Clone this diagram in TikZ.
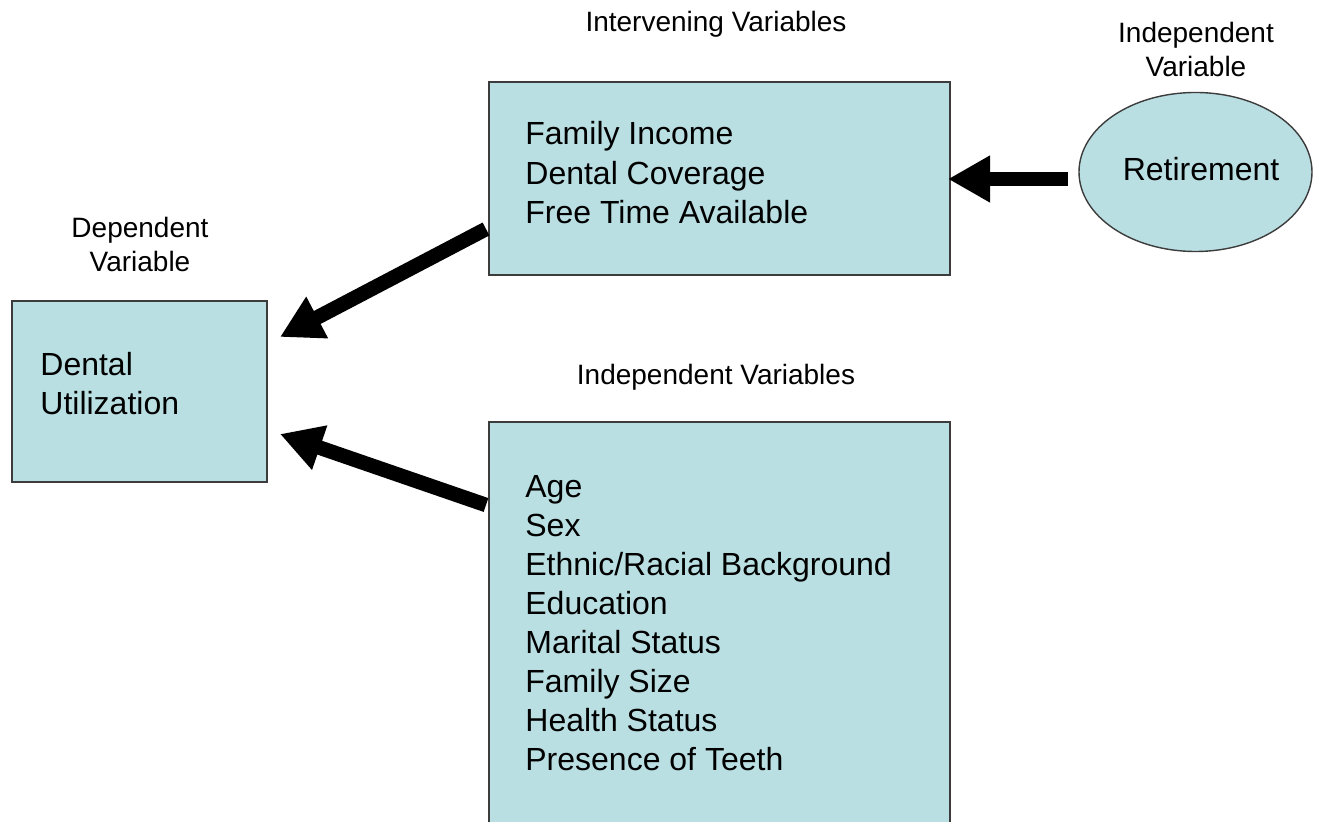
\documentclass[tikz,border=0pt]{standalone}
\usepackage{fontspec}
\setmainfont{Liberation Sans}
\usetikzlibrary{arrows.meta,shapes.geometric}
\definecolor{boxfill}{RGB}{185,223,227}
\definecolor{boxline}{RGB}{60,60,60}
\tikzset{
  varbox/.style={draw=boxline, line width=0.7pt, fill=boxfill, inner sep=0pt},
  bigtext/.style={anchor=base west, inner sep=0pt, font=\fontsize{16}{19.5}\selectfont},
  smalltext/.style={anchor=base, inner sep=0pt, font=\fontsize{14}{17}\selectfont},
  fatarrow/.style={line width=7.3pt, -{Triangle[length=21pt,width=22pt]}}
}
\begin{document}
\begin{tikzpicture}[x=0.5pt,y=-0.5pt]
\useasboundingbox (0,0) rectangle (1319,822);
\clip (0,0) rectangle (1319,822);
% boxes
\node[varbox, minimum width=127.5pt, minimum height=90.5pt] (dep) at (139.5,391.5) {};
\node[varbox, minimum width=230.5pt, minimum height=96.5pt] (iv) at (719.5,178.5) {};
\node[varbox, minimum width=230.5pt, minimum height=206pt] (ind) at (719.5,628) {};
\node[varbox, shape=ellipse, minimum width=116.5pt, minimum height=79.5pt] (ret) at (1195.5,172) {};
% headings
\node[smalltext] (hiv) at (716,32) {Intervening Variables};
\node[smalltext] (hret1) at (1196,43) {Independent};
\node[smalltext] (hret2) at (1196,77) {Variable};
\node[smalltext] (hdep1) at (140,238) {Dependent};
\node[smalltext] (hdep2) at (140,272) {Variable};
\node[smalltext] (hind) at (716,385) {Independent Variables};
% box texts
\node[bigtext] (d1) at (40,376) {Dental};
\node[bigtext] (d2) at (40,415) {Utilization};
\node[bigtext] (i1) at (525,145) {Family Income};
\node[bigtext] (i2) at (525,184.5) {Dental Coverage};
\node[bigtext] (i3) at (525,224) {Free Time Available};
\foreach \t [count=\k from 0] in {Age,Sex,Ethnic/Racial Background,Education,Marital Status,Family Size,Health Status,Presence of Teeth}
  \node[bigtext] (v\k) at (525,{498+39*\k}) {\t};
\node[anchor=base, inner sep=0pt, font=\fontsize{16}{19.5}\selectfont] (rt) at (1201,180.5) {Retirement};
% arrows
\coordinate (a1s) at (486,229);
\coordinate (a1e) at (280,337);
\coordinate (a2s) at (486,505);
\coordinate (a2e) at (280,434);
\coordinate (a3s) at (1068,179);
\coordinate (a3e) at (948,179);
\draw[fatarrow] (a1s) -- (a1e);
\draw[fatarrow] (a2s) -- (a2e);
\draw[fatarrow] (a3s) -- (a3e);
\end{tikzpicture}
\end{document}
